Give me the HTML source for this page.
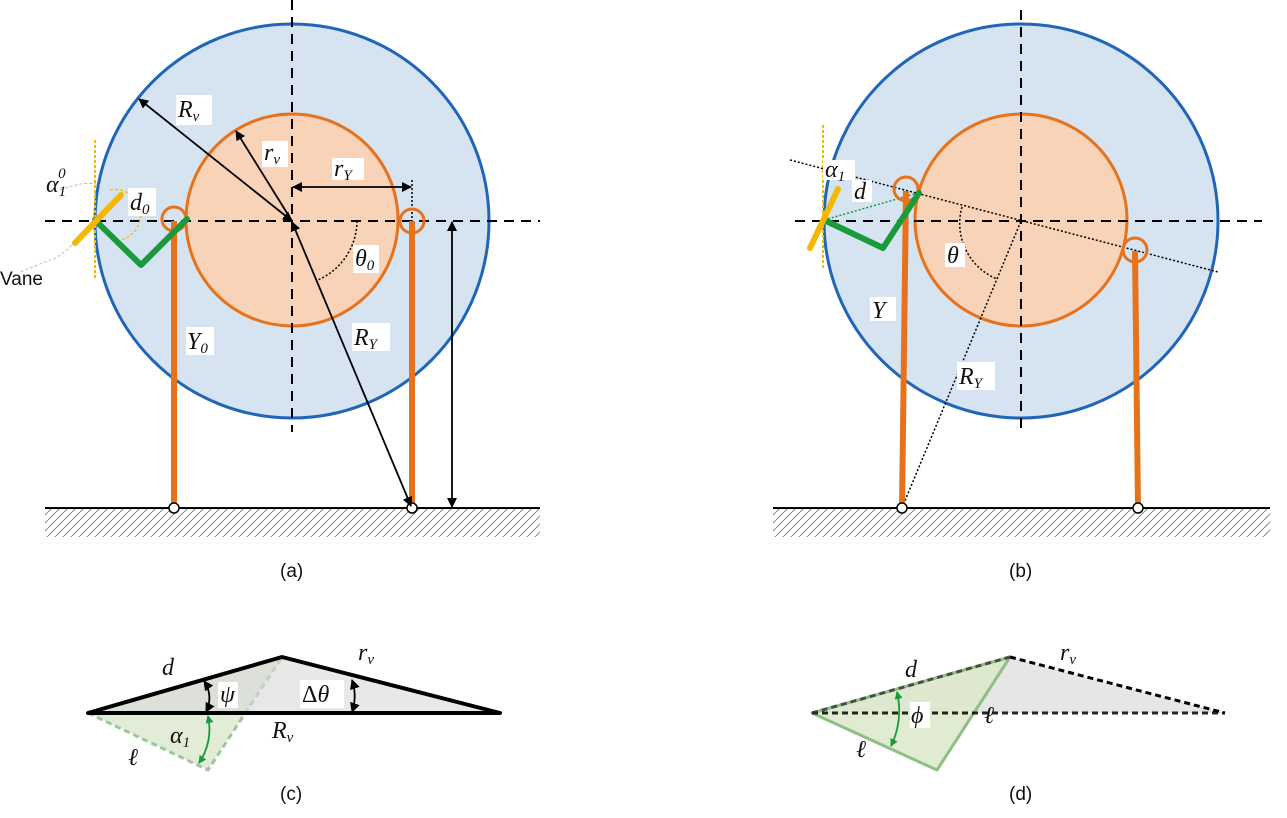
<!DOCTYPE html>
<html><head><meta charset="utf-8"><style>
html,body{margin:0;padding:0;background:#fff;}
svg{display:block;}
.m{font-family:"Liberation Serif",serif;font-style:italic;font-size:24px;fill:#111;}
.s{font-family:"Liberation Serif",serif;font-size:15px;fill:#111;}
.cap{font-family:"Liberation Sans",sans-serif;font-size:19px;fill:#111;}
</style></head><body>
<svg width="1287" height="818" viewBox="0 0 1287 818" xmlns="http://www.w3.org/2000/svg">
<defs>
<marker id="ah" markerWidth="10" markerHeight="10" refX="9" refY="5" orient="auto-start-reverse" markerUnits="userSpaceOnUse"><path d="M0,0 L10,5 L0,10 z" fill="#000"/></marker>
<marker id="ag" markerWidth="8" markerHeight="8" refX="7" refY="4" orient="auto-start-reverse" markerUnits="userSpaceOnUse"><path d="M0,0 L8,4 L0,8 z" fill="#1a9a3a"/></marker>
<pattern id="hatch" width="8" height="8" patternUnits="userSpaceOnUse"><path d="M0,8 L8,0" stroke="#888" stroke-width="1"/></pattern>
</defs>

<!-- Panel (a) -->
<g>
<rect x="45" y="509" width="495" height="28" fill="url(#hatch)"/>
<line x1="45" y1="508" x2="540" y2="508" stroke="#000" stroke-width="2"/>
<circle cx="292" cy="221" r="197" fill="#d6e3f1" stroke="#1f66b8" stroke-width="3"/>
<circle cx="292" cy="220" r="106" fill="#f8d3b8" stroke="#e6731c" stroke-width="3"/>
<line x1="45" y1="221" x2="540" y2="221" stroke="#000" stroke-width="2" stroke-dasharray="10,7"/>
<line x1="292" y1="0" x2="292" y2="432" stroke="#000" stroke-width="2" stroke-dasharray="10,7"/>
<line x1="95" y1="140" x2="95" y2="280" stroke="#f5b800" stroke-width="2" stroke-dasharray="3,2"/>
<path d="M96,220 Q60,260 50,260 Q30,268 20,272" fill="none" stroke="#bbb" stroke-width="1" stroke-dasharray="3,2"/>
<path d="M60,190 Q85,180 100,185" fill="none" stroke="#bbb" stroke-width="1" stroke-dasharray="3,2"/>
<path d="M110,190 A25,25 0 0 1 120,240" fill="none" stroke="#f5b800" stroke-width="1.2" stroke-dasharray="3,2"/>
<line x1="412" y1="180" x2="412" y2="230" stroke="#000" stroke-width="1.5" stroke-dasharray="2,2"/>
<circle cx="174" cy="219" r="12" fill="none" stroke="#e6731c" stroke-width="3"/>
<circle cx="412" cy="221" r="12" fill="none" stroke="#e6731c" stroke-width="3"/>
<line x1="174" y1="221" x2="174" y2="508" stroke="#e6731c" stroke-width="6"/>
<line x1="412" y1="221" x2="412" y2="508" stroke="#e6731c" stroke-width="6"/>
<polyline points="95,220 141,265 187,219" fill="none" stroke="#1a9a3a" stroke-width="6" stroke-linejoin="round" stroke-linecap="round"/>
<line x1="75" y1="243" x2="121" y2="195" stroke="#f5b800" stroke-width="6" stroke-linecap="round"/>
<circle cx="174" cy="508" r="5" fill="#fff" stroke="#000" stroke-width="1.5"/>
<circle cx="412" cy="508" r="5" fill="#fff" stroke="#000" stroke-width="1.5"/>
<line x1="292" y1="221" x2="139" y2="99" stroke="#000" stroke-width="1.8" marker-start="url(#ah)" marker-end="url(#ah)"/>
<line x1="292" y1="221" x2="236" y2="131" stroke="#000" stroke-width="1.8" marker-end="url(#ah)"/>
<line x1="293" y1="187" x2="411" y2="187" stroke="#000" stroke-width="1.8" marker-start="url(#ah)" marker-end="url(#ah)"/>
<line x1="292" y1="222" x2="411" y2="506" stroke="#000" stroke-width="1.8" marker-start="url(#ah)" marker-end="url(#ah)"/>
<line x1="452" y1="222" x2="452" y2="507" stroke="#000" stroke-width="1.8" marker-start="url(#ah)" marker-end="url(#ah)"/>
<path d="M357,221 A65,65 0 0 1 318,280" fill="none" stroke="#000" stroke-width="1.5" stroke-dasharray="2,2"/>
<rect x="176" y="95" width="36" height="30" fill="#fff"/><text class="m" x="178" y="117">R<tspan class="s" dy="4">v</tspan></text>
<rect x="262" y="141" width="26" height="26" fill="#fff"/><text class="m" x="264" y="160">r<tspan class="s" dy="4">v</tspan></text>
<rect x="332" y="158" width="32" height="22" fill="#fff"/><text class="m" x="334" y="176">r<tspan class="s" dy="4">Y</tspan></text>
<rect x="353" y="245" width="26" height="28" fill="#fff"/><text class="m" x="355" y="266">θ<tspan class="s" dy="4">0</tspan></text>
<rect x="352" y="323" width="38" height="28" fill="#fff"/><text class="m" x="354" y="345">R<tspan class="s" dy="4">Y</tspan></text>
<rect x="186" y="327" width="28" height="28" fill="#fff"/><text class="m" x="187" y="349">Y<tspan class="s" dy="4">0</tspan></text>
<rect x="128" y="188" width="28" height="28" fill="#fff"/><text class="m" x="130" y="210">d<tspan class="s" dy="4">0</tspan></text>
<text class="m" x="46" y="192" fill="#444">α<tspan class="s" dy="4">1</tspan><tspan class="s" dx="-8" dy="-18">0</tspan></text>
<text class="cap" x="0" y="285" font-size="18">Vane</text>
<text class="cap" x="280" y="577">(a)</text>
</g>

<!-- Panel (b) -->
<g>
<rect x="773" y="509" width="497" height="28" fill="url(#hatch)"/>
<line x1="773" y1="508" x2="1270" y2="508" stroke="#000" stroke-width="2"/>
<circle cx="1021" cy="221" r="197" fill="#d6e3f1" stroke="#1f66b8" stroke-width="3"/>
<circle cx="1021" cy="220" r="106" fill="#f8d3b8" stroke="#e6731c" stroke-width="3"/>
<line x1="795" y1="221" x2="1262" y2="221" stroke="#000" stroke-width="2" stroke-dasharray="10,7"/>
<line x1="1021" y1="10" x2="1021" y2="430" stroke="#000" stroke-width="2" stroke-dasharray="10,7"/>
<line x1="790" y1="160" x2="1218" y2="272" stroke="#000" stroke-width="1.5" stroke-dasharray="2,2"/>
<line x1="902" y1="508" x2="1021" y2="221" stroke="#000" stroke-width="1.5" stroke-dasharray="2,2"/>
<path d="M962,207 A60,60 0 0 0 997,279" fill="none" stroke="#000" stroke-width="1.5" stroke-dasharray="2,2"/>
<line x1="823" y1="125" x2="823" y2="268" stroke="#f5b800" stroke-width="2" stroke-dasharray="3,2"/>
<line x1="824" y1="220" x2="918" y2="193" stroke="#1a9a3a" stroke-width="1.5" stroke-dasharray="2,2"/>
<circle cx="906" cy="189" r="12" fill="none" stroke="#e6731c" stroke-width="3"/>
<circle cx="1135" cy="250" r="12" fill="none" stroke="#e6731c" stroke-width="3"/>
<line x1="906" y1="191" x2="902" y2="508" stroke="#e6731c" stroke-width="6"/>
<line x1="1135" y1="251" x2="1138" y2="508" stroke="#e6731c" stroke-width="6"/>
<polyline points="824,220 883,248 919,193" fill="none" stroke="#1a9a3a" stroke-width="6" stroke-linejoin="round" stroke-linecap="round"/>
<line x1="810" y1="248" x2="838" y2="189" stroke="#f5b800" stroke-width="6" stroke-linecap="round"/>
<circle cx="902" cy="508" r="5" fill="#fff" stroke="#000" stroke-width="1.5"/>
<circle cx="1138" cy="508" r="5" fill="#fff" stroke="#000" stroke-width="1.5"/>
<rect x="823" y="160" width="32" height="20" fill="#fff"/><text class="m" x="825" y="177">α<tspan class="s" dy="4">1</tspan></text>
<rect x="852" y="180" width="20" height="22" fill="#fff"/><text class="m" x="854" y="199">d</text>
<rect x="945" y="243" width="20" height="24" fill="#fff"/><text class="m" x="947" y="263">θ</text>
<rect x="870" y="297" width="26" height="24" fill="#fff"/><text class="m" x="872" y="318">Y</text>
<rect x="957" y="362" width="38" height="28" fill="#fff"/><text class="m" x="959" y="384">R<tspan class="s" dy="4">Y</tspan></text>
<text class="cap" x="1009" y="577">(b)</text>
</g>

<!-- Panel (c) -->
<g>
<polygon points="88,713 208,770 282,657" fill="#e3ecd6" stroke="#9dc79a" stroke-width="3" stroke-dasharray="6,4"/>
<polygon points="88,713 282,657 500,713" fill="#d9d9d9" fill-opacity="0.6" stroke="#000" stroke-width="4" stroke-linejoin="round"/>
<path d="M204,681 A30,30 0 0 1 206,712" fill="none" stroke="#000" stroke-width="1.8" marker-start="url(#ah)" marker-end="url(#ah)"/>
<path d="M352,680 A50,50 0 0 1 352,712" fill="none" stroke="#000" stroke-width="1.8" marker-start="url(#ah)" marker-end="url(#ah)"/>
<path d="M208,716 A60,60 0 0 1 199,763" fill="none" stroke="#1a9a3a" stroke-width="1.8" marker-start="url(#ag)" marker-end="url(#ag)"/>
<text class="m" x="162" y="675">d</text>
<rect x="218" y="682" width="20" height="26" fill="#fff"/><text class="m" x="220" y="702">ψ</text>
<rect x="300" y="680" width="44" height="28" fill="#fff"/><text class="m" x="302" y="702" style="font-style:normal">Δ<tspan style="font-style:italic">θ</tspan></text>
<text class="m" x="358" y="660">r<tspan class="s" dy="4">v</tspan></text>
<text class="m" x="272" y="738">R<tspan class="s" dy="4">v</tspan></text>
<text class="m" x="170" y="743">α<tspan class="s" dy="4">1</tspan></text>
<text class="m" x="128" y="765">ℓ</text>
<text class="cap" x="280" y="800">(c)</text>
</g>

<!-- Panel (d) -->
<g>
<polygon points="812,713 1010,657 1225,713" fill="#e6e6e6" stroke="none"/>
<polygon points="812,713 937,770 1010,657" fill="#dbe7c9" fill-opacity="0.85" stroke="#8fbf84" stroke-width="3" stroke-linejoin="round"/>
<line x1="1010" y1="657" x2="1225" y2="713" stroke="#000" stroke-width="3" stroke-dasharray="6,4"/>
<line x1="812" y1="713" x2="1225" y2="713" stroke="#000" stroke-width="3" stroke-dasharray="6,4" stroke-opacity="0.85"/>
<line x1="812" y1="713" x2="1010" y2="657" stroke="#333" stroke-width="3" stroke-dasharray="6,4" stroke-opacity="0.8"/>
<path d="M897,692 A80,80 0 0 1 891,746" fill="none" stroke="#1a9a3a" stroke-width="1.8" marker-start="url(#ag)" marker-end="url(#ag)"/>
<text class="m" x="905" y="677">d</text>
<rect x="910" y="702" width="20" height="26" fill="#fff"/><text class="m" x="911" y="723">ϕ</text>
<text class="m" x="984" y="723">ℓ</text>
<text class="m" x="856" y="757">ℓ</text>
<text class="m" x="1060" y="660">r<tspan class="s" dy="4">v</tspan></text>
<text class="cap" x="1009" y="800">(d)</text>
</g>
</svg>
</body></html>
